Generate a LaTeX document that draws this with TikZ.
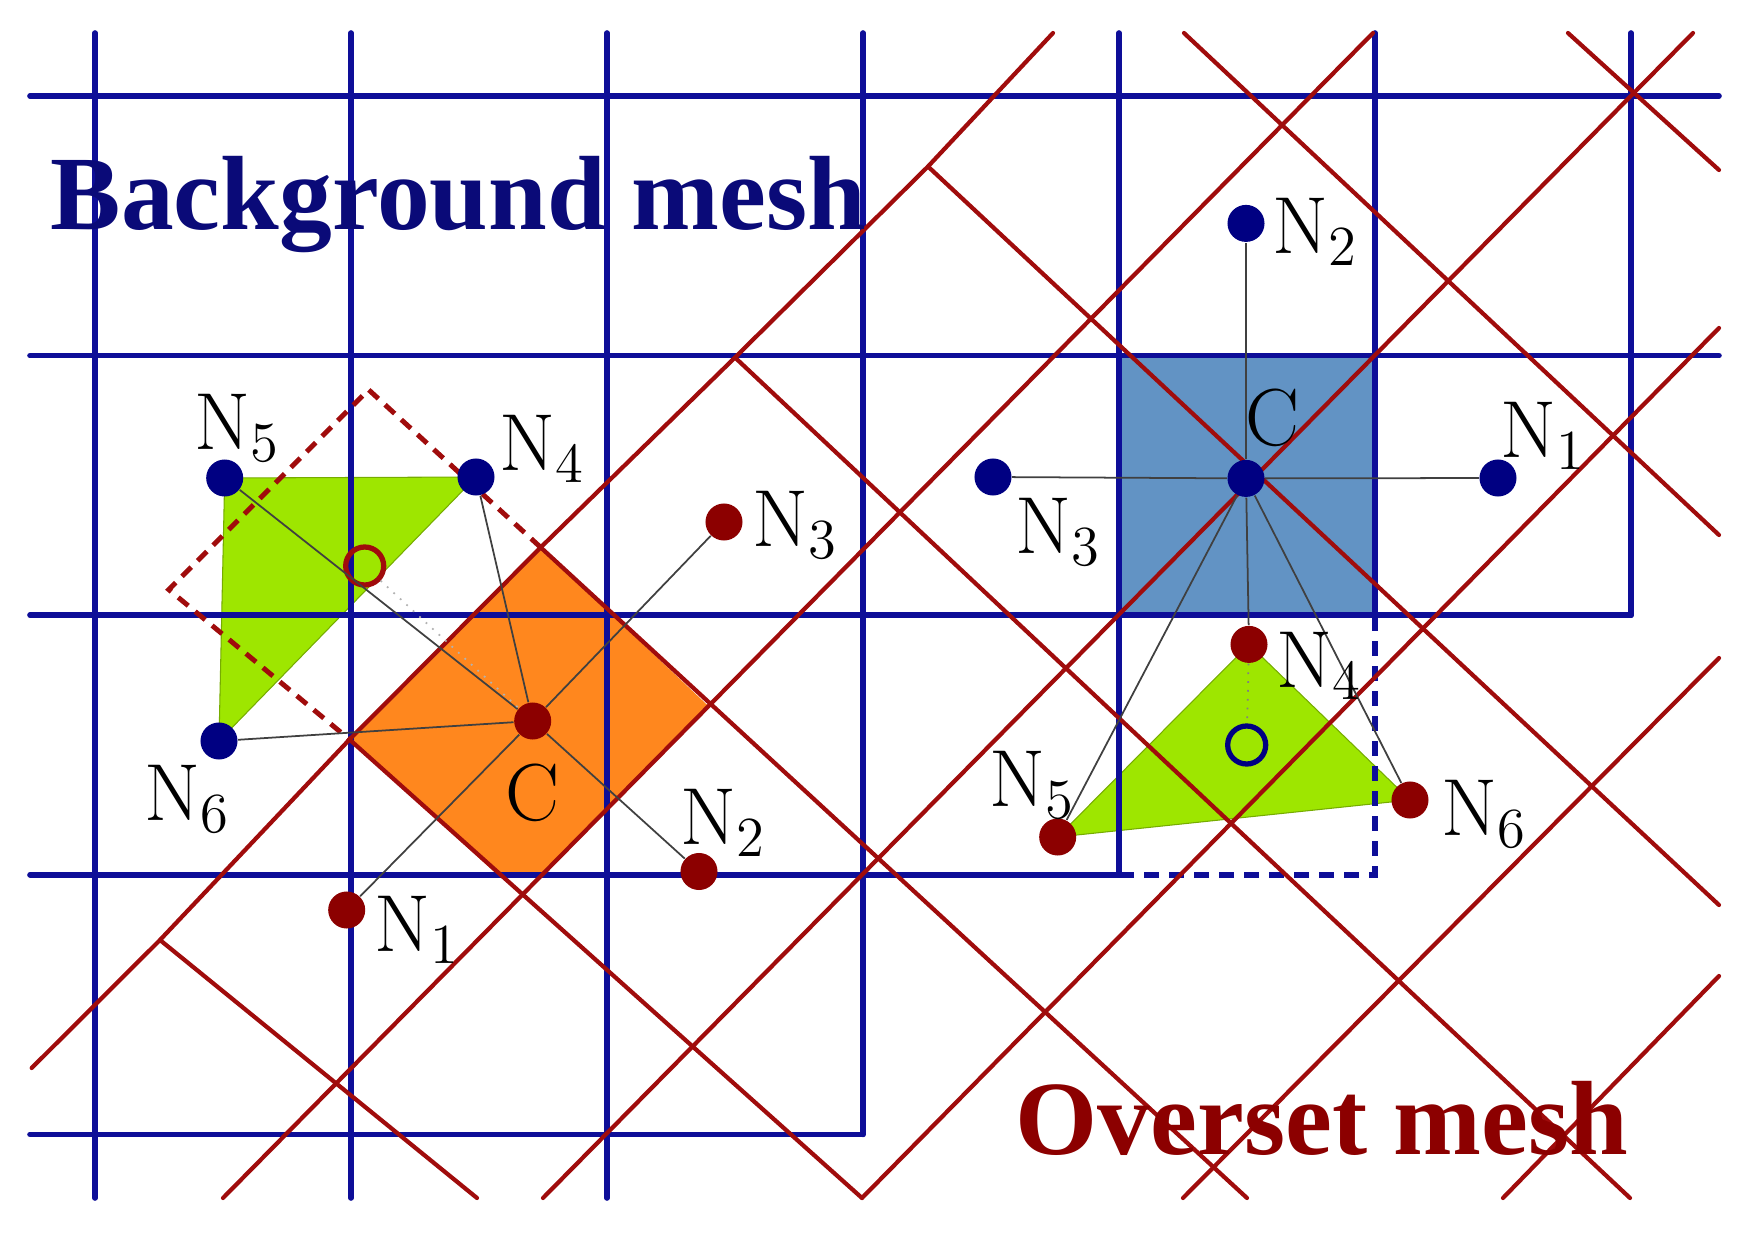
\RequirePackage{fix-cm}
\documentclass[tikz,border=0pt]{standalone}
\usepackage{fontspec}
\newfontfamily\titlefont{Liberation Serif}
\usetikzlibrary{backgrounds}
\definecolor{bgblue}{RGB}{14,14,152}
\definecolor{navytext}{RGB}{10,10,120}
\definecolor{osred}{RGB}{160,12,12}
\definecolor{darkred}{RGB}{140,0,0}
\definecolor{dotblue}{RGB}{0,0,130}
\definecolor{cellgreen}{RGB}{158,230,0}
\definecolor{cellorange}{RGB}{255,135,30}
\definecolor{cellsteel}{RGB}{98,147,196}
\tikzset{bgline/.style={bgblue, line width=1.6pt, line cap=round, line join=round}}
\tikzset{bgdash/.style={bgblue, line width=1.6pt, dash pattern=on 0.15cm off 0.1cm}}
\tikzset{osline/.style={osred, line width=1.2pt, line cap=round}}
\tikzset{osdash/.style={osred, line width=1.4pt, dash pattern=on 0.13cm off 0.09cm}}
\tikzset{link/.style={black!75, line width=0.5pt}}
\tikzset{spot/.style={circle, inner sep=0pt, minimum size=0.37cm}}
\tikzset{bdot/.style={spot, fill=dotblue}}
\tikzset{rdot/.style={spot, fill=darkred}}
\tikzset{ring/.style={circle, inner sep=0pt, minimum size=0.38cm, line width=1.5pt}}
\tikzset{lab/.style={anchor=base west, inner sep=0pt, font=\fontsize{23}{26}\selectfont}}
\tikzset{title/.style={anchor=base west, inner sep=0pt, font=\titlefont\bfseries\fontsize{30}{34}\selectfont}}

\begin{document}
\begin{tikzpicture}[x=0.01cm, y=-0.01cm]
  \useasboundingbox (0,0) rectangle (1741,1233);
  % corners on the overset boundary
  \coordinate (A0) at (160,940);
  \coordinate (A1) at (349.5,739.5);
  \coordinate (A2) at (540.7,547.4);
  \coordinate (A3) at (735,357.5);
  \coordinate (A4) at (928,166.5);
  \coordinate (R) at (707.3,705);
  % ghost cell
  \coordinate (G) at (368.6,389.7);
  \coordinate (H) at (168.8,589.6);

  % background mesh
  \foreach \x/\yb in {95/1198, 351/1198, 607/1198, 863/1134.4, 1119/874.8, 1375/615.2, 1631/615.2}
    \draw[bgline] (\x,33) -- (\x,\yb);
  \foreach \y/\xe in {96/1719, 355.6/1719, 615.2/1631, 874.8/1119, 1134.4/863}
    \draw[bgline] (30,\y) -- (\xe,\y);
  \draw[bgdash] (1119,874.8) -- (1375,874.8) -- (1375,615.2);

  % overset mesh
  \draw[osline] (31.7,1068) -- (A0) -- (A1) -- (A2) -- (A3) -- (A4) -- (1053,33);
  \foreach \xa/\ya/\xb/\yb in {223/1198/1373/33, 543/1198/1693/33, 862/1198/1719/328,
      1183/1198/1719/658, 1503/1198/1719/976, 1184/33/1719/535, 1568/33/1719/170}
    \draw[osline] (\xa,\ya) -- (\xb,\yb);
  \draw[osline] (A0) -- (477,1198);
  \draw[osline] (A1) -- (862,1198);
  \draw[osline] (A2) -- (1247,1198);
  \draw[osline] (A3) -- (1630,1198);
  \draw[osline] (A4) -- (1719,905);
  \draw[osdash] (A2) -- (G) -- (H) -- (A1);

  % left stencil
  \node[bdot] (lN5) at (224.7,478) {};
  \node[bdot] (lN4) at (476,477) {};
  \node[bdot] (lN6) at (219,741) {};
  \node[rdot] (lN3) at (724,522) {};
  \node[rdot] (lC) at (532.7,721) {};
  \node[rdot] (lN2) at (699,871.5) {};
  \node[rdot] (lN1) at (346.7,910) {};
  \node[ring, draw=osred] (lO) at (364.7,566) {};
  % right stencil
  \node[bdot] (rN2) at (1246,223.4) {};
  \node[bdot] (rC) at (1246,478.4) {};
  \node[bdot] (rN3) at (993,477) {};
  \node[bdot] (rN1) at (1498,478) {};
  \node[rdot] (rN4) at (1249,644.4) {};
  \node[rdot] (rN5) at (1057.7,837) {};
  \node[rdot] (rN6) at (1410,800) {};
  \node[ring, draw=dotblue] (rO) at (1246.7,745) {};

  \begin{scope}[on background layer]
    \fill[cellsteel] (1119,355.6) rectangle (1375,615.2);
    \fill[cellorange] (A1) -- (A2) -- (R) -- (543.4,874.8) -- (497.4,874.8) -- cycle;
    \filldraw[fill=cellgreen, draw=cellgreen!75!black, line width=0.3pt]
      (lN5.center) -- (lN4.center) -- (lN6.center) -- cycle;
    \filldraw[fill=cellgreen, draw=cellgreen!75!black, line width=0.3pt]
      (rN4.center) -- (rN5.center) -- (rN6.center) -- cycle;
  \end{scope}

  \foreach \n in {lN5, lN4, lN3, lN6, lN2, lN1}
    \draw[link] (lC) -- (\n);
  \draw[link, gray!60, dotted] (lO) -- (lC);
  \draw[link] (rC) -- (rN2);
  \draw[link] (rN3) -- (rC) -- (rN1);
  \foreach \n in {rN4, rN5, rN6}
    \draw[link] (rC) -- (\n);
  \draw[link, gray, dotted] (rN4) -- (rO);

  % labels
  \node[lab] (tlN5) at (194,449) {$\mathrm{N}_5$};
  \node[lab] (tlN4) at (499,470) {$\mathrm{N}_4$};
  \node[lab] (tlN3) at (752,546) {$\mathrm{N}_3$};
  \node[lab] (tlN6) at (144,820) {$\mathrm{N}_6$};
  \node[lab] (tlC) at (505,820) {$\mathrm{C}$};
  \node[lab] (tlN2) at (680,844) {$\mathrm{N}_2$};
  \node[lab] (tlN1) at (374,951) {$\mathrm{N}_1$};
  \node[lab] (trN2) at (1272,253) {$\mathrm{N}_2$};
  \node[lab] (trC) at (1245,445) {$\mathrm{C}$};
  \node[lab] (trN1) at (1500,457) {$\mathrm{N}_1$};
  \node[lab] (trN3) at (1015,553) {$\mathrm{N}_3$};
  \node[lab] (trN4) at (1276,687) {$\mathrm{N}_4$};
  \node[lab] (trN5) at (989,806) {$\mathrm{N}_5$};
  \node[lab] (trN6) at (1441,835) {$\mathrm{N}_6$};

  \node[title, text=navytext] (bgtitle) at (50,229.5) {Background mesh};
  \node[title, text=darkred] (ostitle) at (1015,1154.7) {Overset mesh};
\end{tikzpicture}
\end{document}
